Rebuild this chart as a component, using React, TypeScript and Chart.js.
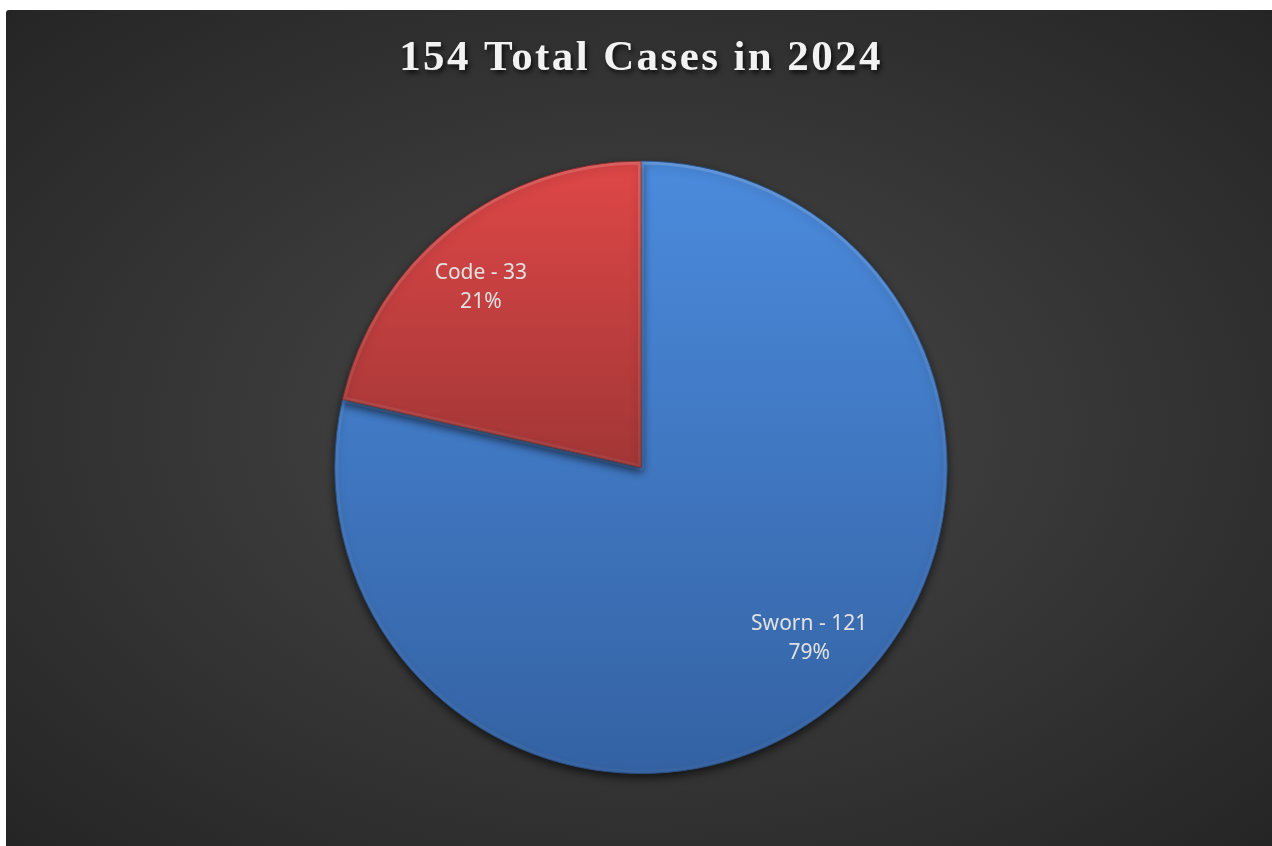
import { useEffect, useRef } from "react";
import { Chart, registerables } from "chart.js";

Chart.register(...registerables);

const TITLE = "154 Total Cases in 2024";
const categories = ["Sworn", "Code"];
const values = [121, 33];
const sliceTopColors = ["#4b8bdd", "#df4747"];
const sliceBottomColors = ["#3462a3", "#a23636"];
const sliceBorderColors = ["#2a5289", "#7e2a2a"];

function sliceYRange(index: number, area: { top: number; bottom: number; left: number; right: number }) {
  const total = values.reduce((a, b) => a + b, 0);
  let cum = 0;
  for (let i = 0; i < index; i++) cum += values[i];
  const a0 = -Math.PI / 2 + (2 * Math.PI * cum) / total;
  const a1 = a0 + (2 * Math.PI * values[index]) / total;
  const cy = (area.top + area.bottom) / 2;
  const r = (area.bottom - area.top) / 2;
  const ys = [0, Math.sin(a0), Math.sin(a1)];
  for (const k of [-Math.PI / 2, Math.PI / 2, (3 * Math.PI) / 2]) {
    if (k >= a0 && k <= a1) ys.push(Math.sin(k));
  }
  return [cy + r * Math.min(...ys), cy + r * Math.max(...ys)];
}

const effectsPlugin = {
  id: "effects",
  beforeDraw(chart: any) {
    const ctx = chart.ctx;
    ctx.save();
    ctx.letterSpacing = "2.4px";
    ctx.shadowColor = "rgba(0,0,0,0.75)";
    ctx.shadowBlur = 5;
    ctx.shadowOffsetX = 2;
    ctx.shadowOffsetY = 3;
  },
  beforeDatasetsDraw(chart: any) {
    const ctx = chart.ctx;
    ctx.restore();
    ctx.save();
    ctx.shadowColor = "rgba(0,0,0,0.6)";
    ctx.shadowBlur = 9;
    ctx.shadowOffsetX = 0;
    ctx.shadowOffsetY = 4;
  },
  afterDatasetsDraw(chart: any) {
    const ctx = chart.ctx;
    ctx.restore();
    const meta = chart.getDatasetMeta(0);
    const total = values.reduce((a, b) => a + b, 0);
    // soft bevel highlight along slice edges
    meta.data.forEach((arc: any) => {
      const p = arc.getProps(["x", "y", "startAngle", "endAngle", "outerRadius"], true);
      ctx.save();
      ctx.beginPath();
      ctx.moveTo(p.x, p.y);
      ctx.arc(p.x, p.y, p.outerRadius - 0.5, p.startAngle, p.endAngle);
      ctx.closePath();
      ctx.clip();
      const g = ctx.createLinearGradient(0, p.y - p.outerRadius, 0, p.y + p.outerRadius);
      g.addColorStop(0, "rgba(255,255,255,0.15)");
      g.addColorStop(0.5, "rgba(255,255,255,0.06)");
      g.addColorStop(1, "rgba(255,255,255,0.03)");
      ctx.strokeStyle = g;
      ctx.lineWidth = 6;
      ctx.lineJoin = "round";
      ctx.stroke();
      ctx.restore();
    });
    ctx.save();
    ctx.font = '21px "Noto Sans", "Open Sans", sans-serif';
    ctx.fillStyle = "#e2e2e2";
    ctx.textAlign = "center";
    ctx.textBaseline = "middle";
    const angleShift = (4.5 * Math.PI) / 180;
    meta.data.forEach((arc: any, i: number) => {
      const p = arc.getProps(["x", "y", "startAngle", "endAngle", "outerRadius"], true);
      const mid = (p.startAngle + p.endAngle) / 2 - angleShift;
      const rr = p.outerRadius * 0.785;
      const x = p.x + Math.cos(mid) * rr + 4;
      const y = p.y + Math.sin(mid) * rr;
      ctx.fillText(`${categories[i]} - ${values[i]}`, x, y - 19);
      ctx.fillText(`${Math.round((values[i] / total) * 100)}%`, x, y + 10);
    });
    ctx.restore();
  },
};

export default function App() {
  const ref = useRef<HTMLCanvasElement | null>(null);
  useEffect(() => {
    if (!ref.current) return;
    const chart = new Chart(ref.current, {
      type: "pie",
      data: {
        labels: categories,
        datasets: [
          {
            data: values,
            backgroundColor: (c: any) => {
              const i = c.dataIndex ?? 0;
              const area = c.chart.chartArea;
              if (!area) return sliceTopColors[i];
              const [y0, y1] = sliceYRange(i, area);
              const g = c.chart.ctx.createLinearGradient(0, y0, 0, y1);
              g.addColorStop(0, sliceTopColors[i]);
              g.addColorStop(1, sliceBottomColors[i]);
              return g;
            },
            borderColor: sliceBorderColors,
            borderWidth: 1,
          },
        ],
      },
      options: {
        responsive: false,
        animation: false,
        events: [],
        layout: { padding: { top: 0, bottom: 72, left: 4, right: 0 } },
        plugins: {
          legend: { display: false },
          tooltip: { enabled: false },
          title: {
            display: true,
            text: TITLE,
            color: "#f2f2f2",
            font: { family: '"Liberation Serif", "Times New Roman", serif', size: 43, weight: "bold" },
            padding: { top: 23, bottom: 76 },
          },
        },
      },
      plugins: [effectsPlugin],
    });
    return () => chart.destroy();
  }, []);
  return (
    <div
      style={{
        position: "absolute",
        left: 6,
        top: 10,
        width: 1266,
        height: 836,
        borderTopLeftRadius: 3,
        background: "radial-gradient(ellipse farthest-corner at 50% 50%, #4a4a4a 0%, #3a3a3a 40%, #252525 100%)",
      }}
    >
      <canvas ref={ref} width={1266} height={836} style={{ display: "block" }} />
    </div>
  );
}
